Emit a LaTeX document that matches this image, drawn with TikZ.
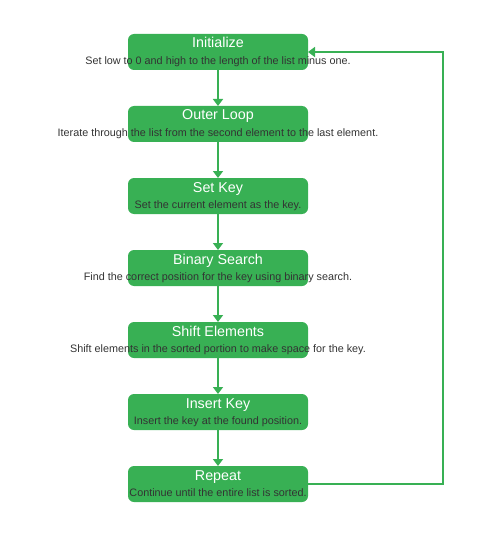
\documentclass[tikz,border=0pt]{standalone}
\usepackage{fontspec}
\setmainfont{Liberation Sans}
\usetikzlibrary{positioning,arrows.meta}
\definecolor{stepGreen}{RGB}{56,176,84}
\definecolor{descGray}{RGB}{51,51,51}

\begin{document}
\begin{tikzpicture}[x=1pt, y=1pt, node distance=36pt,
    stepbox/.style={fill=stepGreen, rounded corners=6pt, minimum width=180pt, minimum height=36pt, inner sep=0pt, outer sep=0pt},
    stepTitle/.style={anchor=base, text=white, font=\fontsize{14.3}{16}\selectfont, inner sep=0pt},
    stepDesc/.style={anchor=base, text=descGray, font=\fontsize{10.8}{12}\selectfont, inner sep=0pt},
    flow/.style={draw=stepGreen, line width=1.5pt, -{Triangle[length=7pt,width=10pt]}}]
    \useasboundingbox (0,0) rectangle (496,-548);

    \node[stepbox] (initialize) at (218,-52) {};
    \node[stepbox, below = of initialize] (outerLoop) {};
    \node[stepbox, below = of outerLoop] (setKey) {};
    \node[stepbox, below = of setKey] (binarySearch) {};
    \node[stepbox, below = of binarySearch] (shiftElements) {};
    \node[stepbox, below = of shiftElements] (insertKey) {};
    \node[stepbox, below = of insertKey] (repeatStep) {};

    \node[stepTitle] (initializeTitle) at ([yshift=4pt]initialize.center) {Initialize};
    \node[stepDesc] (initializeDesc) at ([yshift=-12.5pt]initialize.center) {Set low to 0 and high to the length of the list minus one.};
    \node[stepTitle] (outerLoopTitle) at ([yshift=4pt]outerLoop.center) {Outer Loop};
    \node[stepDesc] (outerLoopDesc) at ([yshift=-12.5pt]outerLoop.center) {Iterate through the list from the second element to the last element.};
    \node[stepTitle] (setKeyTitle) at ([yshift=4pt]setKey.center) {Set Key};
    \node[stepDesc] (setKeyDesc) at ([yshift=-12.5pt]setKey.center) {Set the current element as the key.};
    \node[stepTitle] (binarySearchTitle) at ([yshift=4pt]binarySearch.center) {Binary Search};
    \node[stepDesc] (binarySearchDesc) at ([yshift=-12.5pt]binarySearch.center) {Find the correct position for the key using binary search.};
    \node[stepTitle] (shiftElementsTitle) at ([yshift=4pt]shiftElements.center) {Shift Elements};
    \node[stepDesc] (shiftElementsDesc) at ([yshift=-12.5pt]shiftElements.center) {Shift elements in the sorted portion to make space for the key.};
    \node[stepTitle] (insertKeyTitle) at ([yshift=4pt]insertKey.center) {Insert Key};
    \node[stepDesc] (insertKeyDesc) at ([yshift=-12.5pt]insertKey.center) {Insert the key at the found position.};
    \node[stepTitle] (repeatTitle) at ([yshift=4pt]repeatStep.center) {Repeat};
    \node[stepDesc] (repeatDesc) at ([yshift=-12.5pt]repeatStep.center) {Continue until the entire list is sorted.};

    \draw[flow] (initialize) -- (outerLoop);
    \draw[flow] (outerLoop) -- (setKey);
    \draw[flow] (setKey) -- (binarySearch);
    \draw[flow] (binarySearch) -- (shiftElements);
    \draw[flow] (shiftElements) -- (insertKey);
    \draw[flow] (insertKey) -- (repeatStep);

    \coordinate (loopRight) at (443,-484);
    \draw[flow] (repeatStep.east) -- (loopRight) |- (initialize.east);
\end{tikzpicture}
\end{document}
